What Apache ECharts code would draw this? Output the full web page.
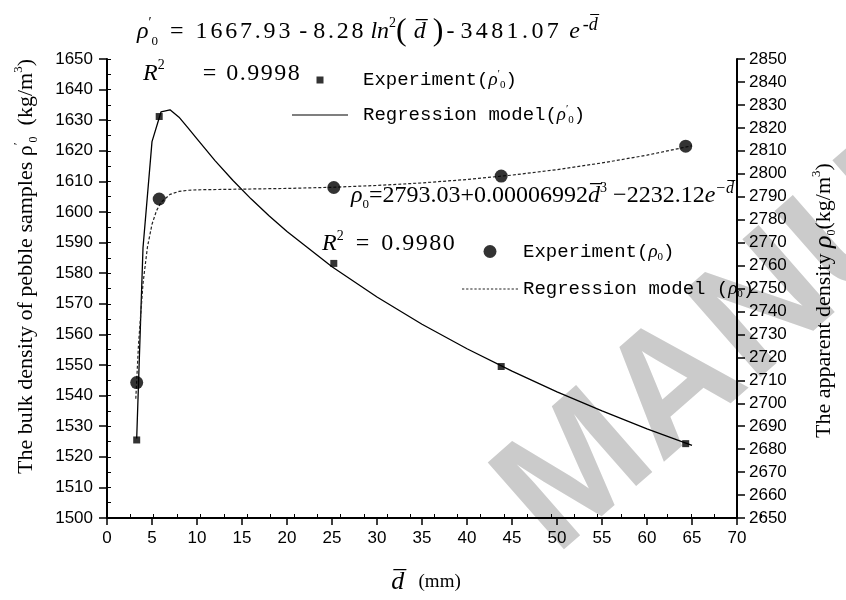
<!DOCTYPE html>
<html><head><meta charset="utf-8">
<script src="https://cdn.jsdelivr.net/npm/echarts@6/dist/echarts.min.js"></script>
<style>html,body{margin:0;padding:0;background:#fff}#c{width:846px;height:600px}</style>
</head><body><div id="c"></div>
<script>
// ---- data ----
const dExp = [3.3, 5.8, 25.2, 43.8, 64.3];
const bulkExp = [1525.5, 1631.2, 1583.2, 1549.5, 1524.3];
const apparentExp = [2709, 2789, 2794, 2799, 2812];
const dBulkModel = [3.3, 4, 5, 6, 7, 8, 9, 10, 12, 14, 16, 18, 20, 25, 30, 35, 40, 45, 50, 55, 60, 65];
const bulkModel = [1526, 1588.3, 1623.0, 1632.7, 1633.4, 1631.0, 1627.5, 1623.9, 1616.8, 1610.3, 1604.3, 1598.8, 1593.6, 1582.1, 1572.2, 1563.3, 1555.3, 1548.0, 1541.2, 1535.0, 1529.1, 1523.7];
const dAppModel = [3.2, 3.5, 4, 4.5, 5, 5.5, 6, 7, 8, 9, 10, 15, 20, 25, 30, 35, 40, 45, 50, 55, 60, 65];
const appModel = [2702.0, 2725.6, 2752.2, 2768.2, 2778.0, 2783.9, 2787.5, 2791.0, 2792.3, 2792.8, 2793.0, 2793.3, 2793.6, 2794.1, 2794.9, 2796.0, 2797.5, 2799.4, 2801.8, 2804.7, 2808.1, 2812.2];
const xRange = [0, 70, 5];
const leftRange = [1500, 1650, 10];
const rightRange = [2650, 2850, 10];
const seriesNames = ["Experiment(ρ'0)", "Regression model(ρ'0)", "Experiment(ρ0)", "Regression model (ρ0)"];

const pairs = (xs, ys) => xs.map((x, i) => [x, ys[i]]);
const SERIF = 'Liberation Serif', SANS = 'Liberation Sans', MONO = 'Liberation Mono';
const OL = '\u0305';
// letter-spaced run of characters as rich tokens
const sp = (s, st) => s.split('').map(c => '{' + st + '|' + c + '}').join('');

function richSet(size, lh, extra) {
  const base = {
    n: {fontFamily: SERIF, fontSize: size, lineHeight: lh, color: '#000'},
    i: {fontFamily: SERIF, fontSize: size, fontStyle: 'italic', lineHeight: lh, color: '#000'},
    sup: {fontFamily: SERIF, fontSize: Math.round(size * 0.6), verticalAlign: 'top', color: '#000'},
    isup: {fontFamily: SERIF, fontSize: Math.round(size * 0.65), fontStyle: 'italic', verticalAlign: 'top', color: '#000'},
    sub: {fontFamily: SERIF, fontSize: Math.round(size * 0.55), verticalAlign: 'bottom', color: '#000'},
    big: {fontFamily: SERIF, fontSize: Math.round(size * 1.35), lineHeight: lh, color: '#000'}
  };
  return Object.assign(base, extra || {});
}
function monoRich() {
  return {
    m: {fontFamily: MONO, fontSize: 19, lineHeight: 22, color: '#000'},
    i: {fontFamily: SERIF, fontSize: 19, fontStyle: 'italic', lineHeight: 22, color: '#000'},
    sup: {fontFamily: SERIF, fontSize: 11, verticalAlign: 'top', color: '#000'},
    sub: {fontFamily: SERIF, fontSize: 11, verticalAlign: 'bottom', color: '#000'}
  };
}
const legendText = {};
legendText[seriesNames[0]] = '{m|Experiment(}{i|ρ}{sup|′}{sub|0}{m|)}';
legendText[seriesNames[1]] = '{m|Regression model(}{i|ρ}{sup|′}{sub|0}{m|)}';
legendText[seriesNames[2]] = '{m|Experiment(}{i|ρ}{sub|0}{m|)}';
legendText[seriesNames[3]] = '{m|Regression model (}{i|ρ}{sub|0}{m|)}';

// legend key shapes
const squareIcon = 'path://M0,0H10V10H0Z';
const solidIcon = 'path://M0,0H56V1.2H0Z';
let dots = '';
for (let k = 0; k < 56; k += 4) dots += 'M' + k + ',0H' + (k + 2.2) + 'V1.2H' + k + 'Z';
const dottedIcon = 'path://' + dots;

const chart = echarts.init(document.getElementById('c'));
const axisBlack = {color: '#000', width: 2};
const plain = v => String(v);
const f1 = richSet(24, 32, {
  d: {fontFamily: SERIF, fontSize: 24, lineHeight: 32, padding: [0, 2.8, 0, 0], color: '#000'},
  d2: {fontFamily: SERIF, fontSize: 24, lineHeight: 32, padding: [0, 3.4, 0, 0], color: '#000'},
  ln: {fontFamily: SERIF, fontSize: 24, fontStyle: 'italic', lineHeight: 32, padding: [0, 0, 0, 4], color: '#000'},
  dd: {fontFamily: SERIF, fontSize: 24, fontStyle: 'italic', lineHeight: 32, padding: [0, 7, 0, 7], color: '#000'},
  mi: {fontFamily: SERIF, fontSize: 24, lineHeight: 32, padding: [0, 6, 0, 3], color: '#000'},
  e: {fontFamily: SERIF, fontSize: 24, fontStyle: 'italic', lineHeight: 32, padding: [0, 2, 0, 7], color: '#000'},
  eq: {fontFamily: SERIF, fontSize: 24, lineHeight: 32, padding: [0, 12, 0, 12], color: '#000'},
  isup: {fontFamily: SERIF, fontSize: 18, fontStyle: 'italic', verticalAlign: 'top', padding: [0, 0, 0, 1], color: '#000'}
});
chart.setOption({
  animation: false,
  backgroundColor: '#fff',
  grid: [
    {left: 107, right: 85, top: 59, bottom: 82},
    {left: 107, right: 85, top: 59, bottom: 82}
  ],
  xAxis: [
    {gridIndex: 0, type: 'value', min: xRange[0], max: xRange[1], interval: xRange[2],
     axisLine: {onZero: false, lineStyle: axisBlack},
     axisTick: {length: 7, lineStyle: {color: '#000', width: 1.5}},
     axisLabel: {fontFamily: SANS, fontSize: 17, color: '#000', margin: 12, formatter: plain},
     splitLine: {show: false}},
    {gridIndex: 1, type: 'value', min: xRange[0], max: xRange[1], interval: xRange[2] / 2,
     axisLine: {show: false}, axisTick: {inside: true, length: 4, lineStyle: {color: '#000', width: 1}},
     axisLabel: {show: false}, splitLine: {show: false}}
  ],
  yAxis: [
    {gridIndex: 0, type: 'value', position: 'left', min: leftRange[0], max: leftRange[1], interval: leftRange[2],
     axisLine: {onZero: false, lineStyle: axisBlack},
     axisTick: {length: 8, lineStyle: {color: '#000', width: 1.5}},
     axisLabel: {fontFamily: SANS, fontSize: 17, color: '#000', margin: 14, formatter: plain},
     splitLine: {show: false},
     name: "{pad|}{n|The bulk density of pebble samples ρ}{sup|′}{sub|0}{n|  (kg/m}{sup|3}{n|)}",
     nameLocation: 'middle', nameRotate: 90, nameGap: 67,
     nameTextStyle: {rich: richSet(22, 28, {pad: {width: 44, fontSize: 22, lineHeight: 28}})}},
    {gridIndex: 0, type: 'value', position: 'right', min: rightRange[0], max: rightRange[1], interval: rightRange[2],
     axisLine: {onZero: false, lineStyle: axisBlack},
     axisTick: {length: 8, lineStyle: {color: '#000', width: 1.5}},
     axisLabel: {fontFamily: SANS, fontSize: 17, color: '#000', margin: 12, formatter: plain},
     splitLine: {show: false},
     name: "{n|The apparent density }{i|ρ}{sub|0}{n|(kg/m}{sup|3}{n|)}{pad|}",
     nameLocation: 'middle', nameRotate: 90, nameGap: 73,
     nameTextStyle: {rich: richSet(22, 28, {i: {fontFamily: SERIF, fontSize: 26, fontStyle: 'italic', lineHeight: 28, color: '#000'},
                                             pad: {width: 24, fontSize: 22, lineHeight: 28}})}},
    {gridIndex: 1, type: 'value', position: 'left', min: leftRange[0], max: leftRange[1], interval: leftRange[2] / 2,
     axisLine: {show: false}, axisTick: {inside: true, length: 4, lineStyle: {color: '#000', width: 1}},
     axisLabel: {show: false}, splitLine: {show: false}}
  ],
  legend: [
    {orient: 'vertical', left: 287, top: 64, itemWidth: 56, itemHeight: 7, itemGap: 13,
     data: [{name: seriesNames[0], icon: squareIcon}, {name: seriesNames[1], icon: solidIcon}],
     symbolKeepAspect: true,
     formatter: n => legendText[n],
     textStyle: {padding: [0, 0, 0, 10], rich: monoRich()}},
    {orient: 'vertical', left: 457, top: 237, itemWidth: 56, itemHeight: 13, itemGap: 17,
     data: [{name: seriesNames[2], icon: 'circle'}, {name: seriesNames[3], icon: dottedIcon}],
     symbolKeepAspect: true,
     formatter: n => legendText[n],
     textStyle: {rich: monoRich()}}
  ],
  series: [
    {name: seriesNames[0], type: 'scatter', xAxisIndex: 0, yAxisIndex: 0, data: pairs(dExp, bulkExp),
     symbol: 'rect', symbolSize: 7, itemStyle: {color: '#000'}, z: 5},
    {name: seriesNames[1], type: 'line', xAxisIndex: 0, yAxisIndex: 0, data: pairs(dBulkModel, bulkModel),
     symbol: 'none', lineStyle: {color: '#000', width: 1.3}, itemStyle: {color: '#000'}},
    {name: seriesNames[2], type: 'scatter', xAxisIndex: 0, yAxisIndex: 1, data: pairs(dExp, apparentExp),
     symbol: 'circle', symbolSize: 13, itemStyle: {color: '#000'}, z: 5},
    {name: seriesNames[3], type: 'line', xAxisIndex: 0, yAxisIndex: 1, data: pairs(dAppModel, appModel),
     symbol: 'none', lineStyle: {color: '#222', width: 1.2, type: [3, 2]}, itemStyle: {color: '#222'}}
  ],
  graphic: [
    {type: 'text', z: -10, x: 525, y: 522, rotation: 0.72,
     style: {text: 'MANUSCRIPT', fontFamily: SANS, fontWeight: 'bold', fontSize: 168, fill: '#cbcbcb', align: 'left', verticalAlign: 'middle'}},
    {type: 'text', x: 137, y: 32, z: 10,
     style: {text: '{i|ρ}{sup|′}{sub|0}{eq|=}' + sp('1667.93', 'd') + '{n| - }' + sp('8.28', 'd') +
                   '{ln|ln}{sup|2}{big|(}{dd|d' + OL + '}{big|)}{mi|-}' + sp('3481.07', 'd2') + '{e|e}{isup|-d' + OL + '}',
             rich: f1, align: 'left', verticalAlign: 'middle'}},
    {type: 'text', x: 143, y: 74, z: 10,
     style: {text: '{i|R}{sup|2}{eq|=}' + sp('0.9998', 'd'),
             rich: richSet(24, 32, {eq: {fontFamily: SERIF, fontSize: 24, lineHeight: 32, padding: [0, 10, 0, 38], color: '#000'},
                                    d: {fontFamily: SERIF, fontSize: 24, lineHeight: 32, padding: [0, 1.5, 0, 0], color: '#000'}}),
             align: 'left', verticalAlign: 'middle'}},
    {type: 'text', x: 351, y: 196, z: 10,
     style: {text: '{i|ρ}{sub|0}{n|=2793.03+0.00006992}{i|d' + OL + '}{sup|3}{n| −2232.12}{i|e}{isup|−d' + OL + '}',
             rich: richSet(24, 30), align: 'left', verticalAlign: 'middle'}},
    {type: 'text', x: 322, y: 244, z: 10,
     style: {text: '{i|R}{sup|2}{n|  =  }' + sp('0.9980', 'd'),
             rich: richSet(24, 30, {d: {fontFamily: SERIF, fontSize: 24, lineHeight: 30, padding: [0, 1.5, 0, 0], color: '#000'}}),
             align: 'left', verticalAlign: 'middle'}},
    {type: 'text', x: 426, y: 582, z: 10,
     style: {text: '{d|d' + OL + '}{n|   (mm)}',
             rich: {d: {fontFamily: SERIF, fontSize: 26, fontStyle: 'italic', lineHeight: 30, color: '#000'},
                    n: {fontFamily: SERIF, fontSize: 19, lineHeight: 30, color: '#000'}},
             align: 'center', verticalAlign: 'middle'}}
  ]
});
</script></body></html>
